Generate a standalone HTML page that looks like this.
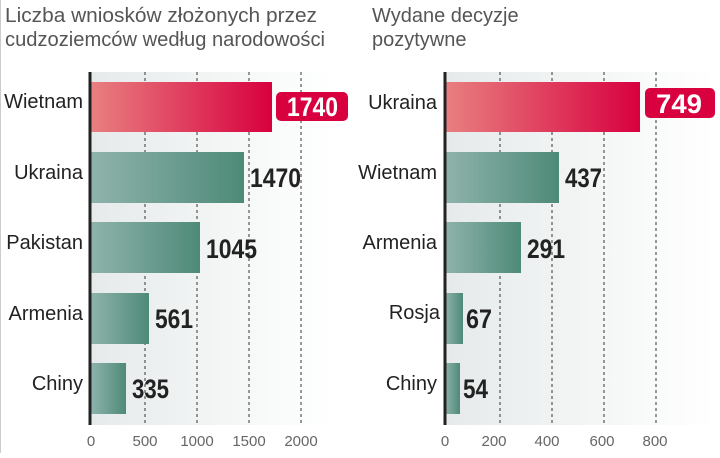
<!DOCTYPE html>
<html><head><meta charset="utf-8"><style>
body{margin:0;background:#fff;width:720px;height:453px;overflow:hidden;font-family:"Liberation Sans",sans-serif;}
</style></head><body>
<svg width="720" height="453" xmlns="http://www.w3.org/2000/svg">
<defs>
<linearGradient id="bg" x1="0" x2="1"><stop offset="0" stop-color="#e6eaea"/><stop offset="1" stop-color="#fff"/></linearGradient>
<linearGradient id="red" x1="0" x2="1"><stop offset="0" stop-color="#e88080"/><stop offset="1" stop-color="#d8003f"/></linearGradient>
<linearGradient id="grn" x1="0" x2="1"><stop offset="0" stop-color="#8fb3ac"/><stop offset="1" stop-color="#4e8a78"/></linearGradient>
</defs>
<line x1="0.5" y1="0" x2="0.5" y2="453" stroke="#ccc"/>
<g font-size="20" fill="#555">
<text x="5" y="22" textLength="312" lengthAdjust="spacingAndGlyphs">Liczba wniosków złożonych przez</text>
<text x="5" y="46" textLength="320" lengthAdjust="spacingAndGlyphs">cudzoziemców według narodowości</text>
<text x="372" y="22">Wydane decyzje</text>
<text x="372" y="46"> pozytywne</text>
</g>
<!-- left -->
<rect x="91" y="72" width="240" height="353" fill="url(#bg)"/>
<g stroke="#333" stroke-dasharray="3,3" stroke-width="1">
<line x1="145" y1="72" x2="145" y2="425"/><line x1="197" y1="72" x2="197" y2="425"/><line x1="249" y1="72" x2="249" y2="425"/><line x1="301" y1="72" x2="301" y2="425"/>
</g>
<rect x="91" y="82" width="181" height="50" fill="url(#red)"/>
<rect x="91" y="152" width="153" height="51" fill="url(#grn)"/>
<rect x="91" y="222" width="109" height="51" fill="url(#grn)"/>
<rect x="91" y="293" width="58" height="51" fill="url(#grn)"/>
<rect x="91" y="363" width="35" height="51" fill="url(#grn)"/>
<line x1="90" y1="72" x2="90" y2="425" stroke="#222" stroke-width="3"/>
<rect x="276" y="92" width="72" height="29" rx="5" fill="#d8003f"/>
<g font-size="20" fill="#222" text-anchor="end">
<text x="83" y="108">Wietnam</text><text x="83" y="179">Ukraina</text><text x="83" y="249">Pakistan</text><text x="83" y="320">Armenia</text><text x="83" y="390">Chiny</text>
</g>
<g font-size="27" font-weight="bold" fill="#222">
<text x="287" y="116" fill="#fff" textLength="51" lengthAdjust="spacingAndGlyphs">1740</text>
<text x="250" y="187" textLength="51" lengthAdjust="spacingAndGlyphs">1470</text>
<text x="206" y="258" textLength="51" lengthAdjust="spacingAndGlyphs">1045</text>
<text x="155" y="328" textLength="38" lengthAdjust="spacingAndGlyphs">561</text>
<text x="132" y="398" textLength="37" lengthAdjust="spacingAndGlyphs">335</text>
</g>
<g font-size="15" fill="#666" text-anchor="middle">
<text x="91" y="446">0</text><text x="145" y="446">500</text><text x="197" y="446">1000</text><text x="249" y="446">1500</text><text x="301" y="446">2000</text>
</g>
<!-- right -->
<rect x="445" y="72" width="270" height="353" fill="url(#bg)"/>
<g stroke="#333" stroke-dasharray="3,3" stroke-width="1">
<line x1="500" y1="72" x2="500" y2="425"/><line x1="552" y1="72" x2="552" y2="425"/><line x1="604" y1="72" x2="604" y2="425"/><line x1="656" y1="72" x2="656" y2="425"/>
</g>
<rect x="445" y="82" width="195" height="50" fill="url(#red)"/>
<rect x="445" y="152" width="114" height="51" fill="url(#grn)"/>
<rect x="445" y="222" width="76" height="51" fill="url(#grn)"/>
<rect x="445" y="293" width="18" height="51" fill="url(#grn)"/>
<rect x="445" y="363" width="15" height="51" fill="url(#grn)"/>
<line x1="445" y1="72" x2="445" y2="425" stroke="#222" stroke-width="3"/>
<rect x="645" y="88" width="70" height="30" rx="5" fill="#d8003f"/>
<g font-size="20" fill="#222" text-anchor="end">
<text x="437" y="109">Ukraina</text><text x="437" y="179">Wietnam</text><text x="437" y="249">Armenia</text><text x="440" y="319">Rosja</text><text x="437" y="390">Chiny</text>
</g>
<g font-size="27" font-weight="bold" fill="#222">
<text x="656" y="113" fill="#fff" textLength="46" lengthAdjust="spacingAndGlyphs">749</text>
<text x="565" y="187" textLength="37" lengthAdjust="spacingAndGlyphs">437</text>
<text x="527" y="258" textLength="38" lengthAdjust="spacingAndGlyphs">291</text>
<text x="466" y="328" textLength="26" lengthAdjust="spacingAndGlyphs">67</text>
<text x="463" y="398" textLength="25" lengthAdjust="spacingAndGlyphs">54</text>
</g>
<g font-size="15" fill="#666" text-anchor="middle">
<text x="445" y="446">0</text><text x="494" y="446">200</text><text x="547" y="446">400</text><text x="602" y="446">600</text><text x="655" y="446">800</text>
</g>
</svg>
</body></html>
